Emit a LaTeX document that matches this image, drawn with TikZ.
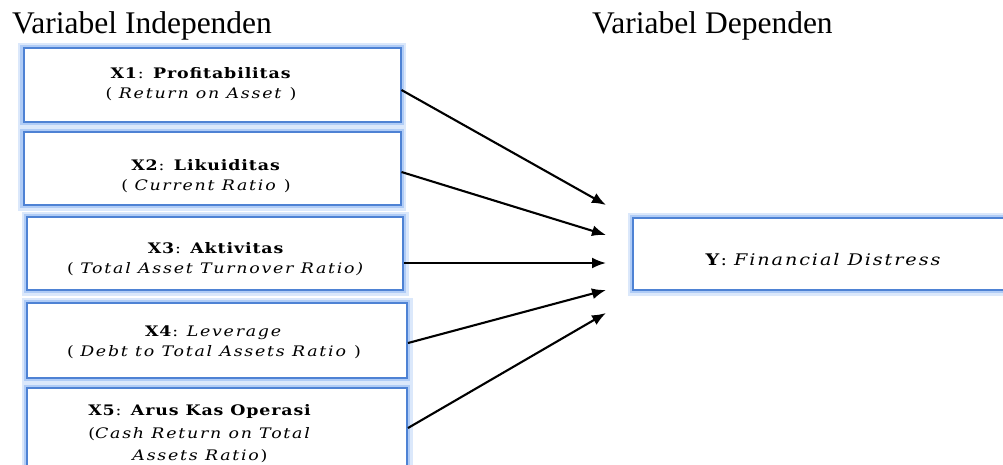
\documentclass[tikz,border=0pt]{standalone}
\usepackage{fontspec}
\setmainfont{Liberation Serif}
\newfontfamily\boxfont[FakeStretch=1.2, LetterSpace=6, ItalicFeatures={LetterSpace=12}]{DejaVu Serif}
\usetikzlibrary{arrows.meta}
\definecolor{boxblue}{RGB}{78,130,212}
\definecolor{glowblue}{RGB}{176,204,246}
\tikzset{
  varbox/.style={draw=boxblue, line width=2pt, fill=white, rectangle,
    inner sep=0pt,
    preaction={draw=glowblue!45, line width=11pt},
    preaction={draw=glowblue, line width=6.5pt}},
  boxtext/.style={align=center, inner sep=0pt,
    font=\boxfont\fontsize{14.5}{20.5}\selectfont},
  heading/.style={anchor=base west, inner sep=0pt, font=\fontsize{31.5}{36}\selectfont},
  link/.style={line width=2.1pt, -{Latex[length=14pt,width=11pt]}}
}
\begin{document}
\begin{tikzpicture}[x=1pt,y=-1pt]
\clip (0,0) rectangle (1003,464);
\fill[white] (0,0) rectangle (1003,464);
\node[heading] (hi) at (12,33) {Variabel Independen};
\node[heading] (hd) at (592,33) {Variabel Dependen};

\node[varbox, minimum width=377pt, minimum height=74pt] (x1) at (212,85) {};
\node[varbox, minimum width=377pt, minimum height=73pt] (x2) at (212,168.5) {};
\node[varbox, minimum width=376pt, minimum height=73pt] (x3) at (215,253.5) {};
\node[varbox, minimum width=380pt, minimum height=75pt] (x4) at (217,340.5) {};
\node[varbox, minimum width=380pt, minimum height=84pt] (x5) at (217,430) {};
\node[varbox, minimum width=380pt, minimum height=72pt] (y) at (823,254) {};

\node[boxtext] (x1t) at (201,84) {\textbf{X1}: \textbf{Profitabilitas}\\( \textit{Return on Asset} )};
\node[boxtext] (x2t) at (206,176) {\textbf{X2}: \textbf{Likuiditas}\\( \textit{Current Ratio} )};
\node[boxtext] (x3t) at (216,259) {\textbf{X3}: \textbf{Aktivitas}\\( \textit{Total Asset Turnover Ratio)}};
\node[boxtext] (x4t) at (214,342) {\textbf{X4}: \textit{Leverage}\\( \textit{Debt to Total Assets Ratio} )};
\node[boxtext, font=\boxfont\fontsize{14.5}{22.5}\selectfont] (x5t) at (200,434) {\textbf{X5}: \textbf{Arus Kas Operasi}\\(\textit{Cash Return on Total}\\\textit{Assets Ratio})};
\node[boxtext, font=\boxfont\fontsize{16}{20}\selectfont] (yt) at (824,260) {\textbf{Y}: \textit{Financial Distress}};

\coordinate (t1) at (606,205);
\coordinate (t2) at (606,235);
\coordinate (t3) at (606,263);
\coordinate (t4) at (606,290);
\coordinate (t5) at (606,313);

\draw[link] ([yshift=-5pt]x1.east) -- (t1);
\draw[link] ([yshift=-3.5pt]x2.east) -- (t2);
\draw[link] ([yshift=-9.5pt]x3.east) -- (t3);
\draw[link] ([yshift=-2.5pt]x4.east) -- (t4);
\draw[link] ([yshift=2pt]x5.east) -- (t5);
\end{tikzpicture}
\end{document}
